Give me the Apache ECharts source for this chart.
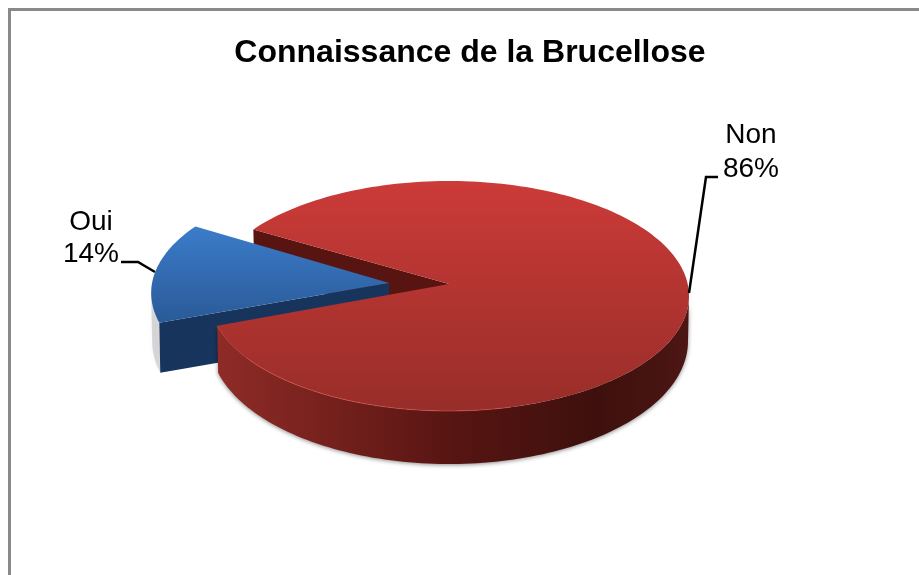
<!DOCTYPE html>
<html>
<head>
<meta charset="utf-8">
<title>Connaissance de la Brucellose</title>
<style>
  html, body { margin: 0; padding: 0; background: #fff; }
  #chart { width: 919px; height: 575px; }
</style>
<script src="https://cdn.jsdelivr.net/npm/echarts@6/dist/echarts.min.js"></script>
</head>
<body>
<div id="chart"></div>
<script>
var chartTitle = 'Connaissance de la Brucellose';
var categories = ['Oui', 'Non'];
var shares = [14, 86];

// pie geometry, 3d look is faked with two ellipses
var top_ = { cx: 449, cy: 296, rx: 240, ry: 115 };
var bottom_ = { cx: 449, cy: 341, rx: 239, ry: 123 };
var apexLift = 12;      // apex sits above ellipse centre (perspective)
var apexDepth = 50;
var explode = 0.245;    // Oui is pulled out of the pie
var startParam = 195;   // ellipse angle where Oui starts, going clockwise on screen

function ring(e, a, dx, dy) {
  var r = a * Math.PI / 180;
  return [e.cx + dx + e.rx * Math.cos(r), e.cy + dy - e.ry * Math.sin(r)];
}
function arc(e, a0, a1, dx, dy) {
  var pts = [];
  var n = Math.max(2, Math.ceil(Math.abs(a1 - a0) / 1.5));
  for (var i = 0; i <= n; i++) {
    pts.push(ring(e, a0 + (a1 - a0) * i / n, dx, dy));
  }
  return pts;
}
function vGrad(c0, c1) {
  return new echarts.graphic.LinearGradient(0, 0, 0, 1, [
    { offset: 0, color: c0 }, { offset: 1, color: c1 }
  ]);
}
function poly(points, style, z2) {
  return { type: 'polygon', z2: z2, silent: true, shape: { points: points }, style: style };
}
function leader(points) {
  return { type: 'polyline', z2: 9, silent: true, shape: { points: points },
    style: { stroke: '#000', lineWidth: 2.5, fill: null } };
}
function label(text, x, y, lh) {
  return { type: 'text', z2: 10, silent: true, x: x, y: y,
    style: { text: text, fill: '#000', font: '28px "Liberation Sans", Arial, sans-serif',
      lineHeight: lh, align: 'center', verticalAlign: 'middle' } };
}

function renderOui(a0, a1) {
  var mid = (a0 + a1) / 2 * Math.PI / 180;
  var dx = explode * top_.rx * Math.cos(mid);
  var dy = -explode * top_.ry * Math.sin(mid) + 2;
  var dyLow = dy + 3;
  var tip = [top_.cx + dx - 2, top_.cy + dy - apexLift + 2];
  var tipLow = [tip[0], tip[1] + apexDepth];
  var topArc = arc(top_, a0, a1, dx, dy);
  var lowCorner = ring(bottom_, a0, dx, dyLow);
  var children = [];
  // soft grey for the round side, barely seen in the reference
  children.push(poly(arc(top_, 180, a0, dx, dy).concat(arc(bottom_, a0, 180, dx, dyLow)),
    { fill: 'rgba(130,130,130,0.28)', shadowBlur: 5, shadowColor: 'rgba(0,0,0,0.2)' }, 2));
  children.push(poly([tip, topArc[0], lowCorner, tipLow], { fill: '#16345c' }, 3));
  children.push(poly([tip].concat(topArc), { fill: vGrad('#3b7cca', '#2a5a97') }, 4));
  return children;
}

function renderNon(a0, a1) {
  var apex = [top_.cx, top_.cy - apexLift];
  var apexLow = [apex[0], apex[1] + apexDepth];
  var children = [];
  // inner wall behind the gap left by Oui
  children.push(poly([apex, ring(top_, a0, 0, 0), ring(bottom_, a0, 0, 0), apexLow],
    { fill: '#581410' }, 1));
  // rim, only the front half can be seen
  var rim = arc(top_, a1, 0, 0, 0).concat(arc(bottom_, 0, a1, 0, 0));
  children.push(poly(rim, {
    fill: new echarts.graphic.LinearGradient(0, 0, 1, 0, [
      { offset: 0, color: '#8f2b27' },
      { offset: 0.25, color: '#74201c' },
      { offset: 0.5, color: '#571512' },
      { offset: 0.8, color: '#3e100d' },
      { offset: 1, color: '#4c1613' }
    ]),
    shadowBlur: 4, shadowColor: 'rgba(0,0,0,0.45)', shadowOffsetY: 1
  }, 5));
  children.push(poly([apex].concat(arc(top_, a0, a1, 0, 0)),
    { fill: vGrad('#cc3b38', '#982d29') }, 6));
  // thin light edge on the front left of the top face
  children.push({ type: 'polyline', z2: 7, silent: true,
    shape: { points: arc(top_, a1, a1 + 90, 0, 0) },
    style: { stroke: 'rgba(225,90,80,0.55)', lineWidth: 1, fill: null } });
  return children;
}

var total = shares.reduce(function (s, v) { return s + v; }, 0);

function renderItem(params, api) {
  var i = params.dataIndex;
  var a0 = startParam;
  for (var k = 0; k < i; k++) a0 -= shares[k] / total * 360;
  var a1 = a0 - api.value(0) / total * 360;
  var pct = Math.round(api.value(0) / total * 100) + '%';
  var text = categories[i] + '\n' + pct;
  var children;
  if (i === 0) {
    children = renderOui(a0, a1);
    children.push(leader([[121, 262], [138, 262], [155, 272]]));
    children.push(label(text, 91, 238, 32));
  } else {
    children = renderNon(a0, a1);
    children.push(leader([[689, 293], [706, 177], [718, 177]]));
    children.push(label(text, 751, 152, 34));
  }
  return { type: 'group', children: children };
}

var chart = echarts.init(document.getElementById('chart'));
chart.setOption({
  animation: false,
  backgroundColor: '#fff',
  title: {
    text: chartTitle,
    left: 465,
    top: 32,
    textAlign: 'center',
    textStyle: { fontFamily: '"Liberation Sans", Arial, sans-serif', fontWeight: 'bold', fontSize: 32, color: '#000' }
  },
  graphic: [{
    type: 'polyline',
    silent: true,
    shape: { points: [[9.5, 580], [9.5, 9.5], [925, 9.5]] },
    style: { stroke: '#898989', lineWidth: 3, fill: null }
  }],
  series: [{
    type: 'custom',
    coordinateSystem: 'none',
    renderItem: renderItem,
    data: shares.map(function (v) { return [v]; })
  }]
});
</script>
</body>
</html>
